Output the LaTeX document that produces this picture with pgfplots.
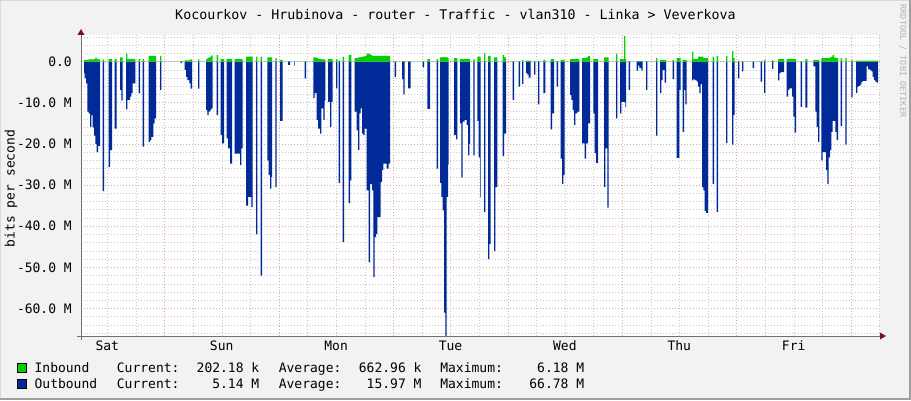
\documentclass[border=0pt]{standalone}
\usepackage{fontspec}
\setmainfont{DejaVu Sans Mono}
\setmonofont{DejaVu Sans Mono}
\usepackage{pgfplots}
\usepackage{pgfplotstable}
\pgfplotsset{compat=1.18}
\definecolor{inb}{HTML}{00CF00}
\definecolor{outb}{HTML}{002A97}
\definecolor{canvasbg}{HTML}{F2F2F2}
\definecolor{mgrid}{HTML}{EBA4A4}
\definecolor{sgrid}{HTML}{C8C8C8}
\definecolor{axcol}{HTML}{707070}
\definecolor{arrowc}{HTML}{801010}
\definecolor{wm}{HTML}{B4B4B4}
\definecolor{shadeb}{HTML}{9E9E9E}
\definecolor{shadea}{HTML}{D8D8D8}
\newcommand{\lf}{\fontsize{13}{15}\selectfont}

\pgfplotstableread{
x out in
81.0 0 0
84.0 -2.8 0.4
84.7 -4.0 0.4
86.0 -5.3 0.4
87.3 -12.2 0.4
88.7 -12.6 0.5
90.0 -15.9 0.5
91.3 -13.0 0.5
92.7 -16.0 0.5
94.0 -18.0 0.6
95.3 -20.0 1.0
96.7 -22.0 0.6
98.0 -20.5 0.5
100.0 0 0
102.7 -31.5 0.5
104.0 0 0
108.7 -25.6 0.6
110.0 -21.5 0.6
112.0 0 0
114.7 -16.3 0.6
116.7 0 0
120.0 -6.9 1.0
121.3 -9.5 1.0
122.7 0 0
126.0 -11.6 2.0
127.3 -9.3 0.6
130.0 -8.5 0.6
131.3 -7.7 0.6
132.7 -5.3 0.6
135.3 0 0
138.7 -7.7 0.6
140.0 0 0
142.7 -20.7 0.6
144.0 0 0
148.7 -19.5 1.4
150.0 -19.1 1.4
151.3 -18.3 1.4
153.3 -15.0 1.4
154.7 -13.8 1.4
156.0 0 0
160.0 -6.9 1.4
161.3 0 0
180.7 -0.4 0.1
182.0 0 0
184.7 -2.0 0.3
186.0 -3.7 0.3
187.3 -4.5 0.3
189.3 -5.3 0.4
190.7 -6.6 0.5
192.0 0 0
198.0 -6.6 0.5
199.3 0 0
206.0 -11.8 0.5
207.3 -13.0 0.8
208.7 -12.2 1.0
210.0 -11.8 1.2
211.3 -11.4 1.5
212.7 0 0
216.7 -13.0 1.6
218.0 0 0
220.7 -17.9 0.6
222.0 -19.9 0.6
224.0 0 0
226.7 -18.7 0.6
228.0 -21.1 0.6
230.0 -24.8 0.6
232.0 0 0
234.7 -22.4 0.6
240.0 -25.2 0.6
241.3 -21.1 0.6
242.7 0 0
246.0 -35.0 1.2
248.0 -32.9 1.2
251.3 -35.4 1.2
252.7 0 0
256.0 -42.0 1.2
257.3 0 0
260.7 -52.0 1.2
262.0 0 0
267.3 -24.0 1.0
268.7 -27.6 1.0
270.0 -30.9 1.0
271.3 -28.0 1.0
272.0 0 0
275.3 -30.5 0.8
276.7 0 0
280.0 -14.4 0.4
282.7 0 0
288.0 -0.8 0.05
290.0 0 0
294.0 -1.0 0.05
294.7 0 0
304.7 -4.1 0.1
306.0 0 0
313.3 -8.9 1.0
314.7 -7.7 1.0
316.7 -14.2 0.8
318.0 -16.3 0.6
320.0 -17.5 0.6
321.3 -11.4 0.5
323.3 -14.2 0.5
324.7 -9.5 0.5
325.3 0 0
328.0 -9.8 0.6
330.0 -15.9 0.6
331.3 -9.8 0.6
332.7 0 0
336.0 -6.5 0.6
337.3 0 0
338.7 -29.5 0.3
340.0 0 0
342.7 -43.9 1.2
344.0 0 0
348.7 -34.4 1.6
350.0 -28.9 1.6
351.3 0 0
354.7 -12.2 0.8
356.7 -16.7 0.8
358.0 -21.5 1.0
359.3 -12.6 1.0
360.7 -11.4 1.1
362.0 -17.5 1.2
363.3 -17.9 1.2
364.7 -16.3 1.4
366.7 -31.3 1.9
368.7 -48.8 1.9
370.0 -29.8 1.6
372.0 -31.3 1.4
373.3 -52.4 1.4
374.7 -42.7 1.4
376.0 -41.9 1.4
377.3 -37.8 1.4
380.7 -29.3 1.4
382.0 -26.4 1.4
383.3 -24.8 1.4
386.7 -26.0 1.4
388.7 -24.8 1.4
390.0 0 0
394.7 -3.7 0.05
396.0 0 0
402.0 -4.3 0.1
403.3 -8.0 0.1
404.7 0 0
408.0 -6.5 0.1
410.7 0 0
422.7 -1.4 0.05
424.0 0 0
427.3 -11.5 0.6
430.0 0 0
436.7 -26.0 0.6
438.0 0 0
440.0 -29.5 1.0
441.3 -32.9 1.0
442.7 -36.2 1.1
444.0 -61.0 1.1
445.3 -66.8 1.0
446.7 -32.9 1.0
448.0 -25.0 0.8
448.7 0 0
454.0 -17.9 0.8
456.0 -18.9 0.8
457.3 0 0
460.0 -15.0 0.6
461.3 -28.2 0.6
462.7 -14.6 0.6
464.7 -14.2 0.6
466.7 -15.4 0.6
468.0 -22.8 0.6
469.3 -20.0 0.6
470.0 0 0
473.3 -22.8 0.6
474.7 0 0
477.3 -14.4 1.2
478.7 -23.3 1.2
480.0 -33.0 1.2
480.7 0 0
484.0 -36.6 2.0
485.3 0 0
488.0 -48.0 1.4
489.3 -44.3 1.4
490.7 0 0
494.0 -46.1 1.0
495.3 -30.5 1.0
497.3 0 0
502.7 -23.0 1.6
504.0 -17.5 1.0
506.0 0 0
512.7 -9.3 0.1
514.0 0 0
518.7 -6.1 0.1
520.0 0 0
522.0 -5.4 0.4
523.3 0 0
526.0 -2.8 0.2
527.3 -3.2 0.2
528.7 -3.9 0.2
530.7 0 0
534.0 -3.2 0.1
535.3 0 0
538.0 -10.4 0.1
539.3 0 0
543.3 -7.7 0.4
545.3 0 0
550.7 -16.5 0.6
552.0 -12.6 0.6
554.0 0 0
556.7 -6.1 0.1
558.0 0 0
560.7 -23.6 0.4
562.0 -29.7 0.4
563.3 -27.6 0.4
564.7 0 0
570.0 -8.1 0.6
571.3 -9.3 0.6
572.7 -11.8 0.6
574.0 -15.4 0.6
575.3 -12.6 0.6
577.3 -12.2 0.6
579.3 0 0
582.0 -19.9 0.8
584.7 -23.6 0.8
586.0 -19.9 1.0
588.0 -15.0 1.4
590.0 0 0
593.3 -12.6 0.6
594.7 -22.2 0.6
596.0 -24.6 0.6
598.0 0 0
604.0 -30.5 1.0
605.3 -21.1 1.0
607.3 -35.5 1.0
608.7 0 0
616.0 -13.8 1.9
617.3 0 0
620.0 -12.6 0.6
621.3 -9.8 0.6
624.0 -9.8 6.18
625.3 -11.1 0.6
626.0 0 0
628.7 -6.9 0.1
630.0 0 0
636.7 -2.2 0.1
638.0 -1.0 0.1
639.3 -1.6 0.1
641.3 -2.2 0.1
642.7 0 0
646.0 -6.9 0.1
647.3 0 0
656.0 -18.0 0.9
657.3 0 0
660.0 -7.7 0.4
661.3 -4.5 0.4
662.7 -2.0 0.4
664.7 -5.1 0.4
666.0 0 0
672.7 -4.3 0.4
674.0 0 0
676.7 -23.4 0.8
679.3 -6.9 0.8
680.7 0 0
682.7 -17.1 0.4
684.0 -6.9 0.4
685.3 -10.4 0.4
686.7 0 0
692.0 -4.6 2.4
693.3 -4.3 0.6
694.7 -4.5 0.6
696.7 -4.9 0.6
698.0 -6.1 1.2
699.3 -7.7 1.2
700.7 -5.5 1.2
702.0 -30.5 1.2
703.3 -31.3 0.8
704.7 -36.3 0.8
706.0 -36.8 0.8
708.0 0 0
712.7 -29.7 1.2
714.0 0 0
716.7 -36.6 1.4
718.0 0 0
726.0 -19.8 1.4
727.3 0 0
732.0 -20.2 2.6
733.3 -13.0 0.8
734.7 0 0
738.0 -4.1 0.2
739.3 0 0
742.0 -2.4 0.05
743.3 0 0
752.7 -1.6 0.05
754.0 0 0
760.7 -4.9 0.05
762.0 0 0
764.0 -7.7 0.4
765.3 0 0
772.0 -1.8 0.4
773.3 0 0
778.0 -4.6 0.6
779.3 -2.8 0.6
780.7 -2.6 0.6
782.7 -2.6 0.6
784.0 0 0
786.7 -8.5 0.6
788.0 -6.9 0.6
789.3 -6.5 0.6
792.0 -8.5 0.6
793.3 -13.4 0.6
794.7 -17.3 0.6
796.0 0 0
800.7 -11.0 0.1
802.0 0 0
805.3 -11.2 0.6
807.3 0 0
813.3 -1.2 0.4
815.3 -12.2 0.4
816.7 -15.9 0.4
818.0 -19.5 0.4
819.3 0 0
821.3 -24.0 0.8
822.7 -22.0 0.8
826.0 -26.4 0.8
827.3 -29.7 0.8
828.7 -23.3 0.8
830.0 -21.5 1.0
831.3 -17.1 1.2
832.7 -14.4 1.6
834.0 -14.4 1.0
835.3 -17.1 0.8
836.7 -19.1 0.8
838.0 0 0
840.7 -15.7 0.8
842.0 0 0
845.3 -20.2 0.8
846.7 0 0
851.3 -8.7 0.4
852.7 0 0
856.0 -7.6 0.2
857.3 -6.1 0.2
858.7 -5.9 0.2
860.0 -5.6 0.2
861.3 -5.0 0.2
862.7 -4.7 0.2
866.7 -1.2 0.2
868.0 -1.9 0.2
870.0 -2.0 0.2
871.3 -2.4 0.2
872.7 -3.7 0.2
874.0 -4.5 0.2
875.3 -4.9 0.2
876.7 -5.1 0.2
878.0 0 0
880.0 0 0
}\traffic

\begin{document}
\begin{tikzpicture}
\fill[canvasbg] (0pt,0pt) rectangle (911pt,400pt);
\useasboundingbox (0pt,0pt) rectangle (911pt,400pt);
\fill[shadea] (0pt,0pt) rectangle (1pt,400pt);
\fill[shadea] (0pt,399pt) rectangle (911pt,400pt);
\fill[shadeb] (909pt,0pt) rectangle (911pt,400pt);
\fill[shadeb] (0pt,0pt) rectangle (911pt,2pt);
\fill[white] (81pt,64pt) rectangle (880pt,364.8pt);

\begin{axis}[
  at={(81pt,64pt)}, anchor=south west,
  scale only axis, width=799pt, height=300.8pt,
  xmin=81, xmax=880, ymin=-66.7, ymax=6.4,
  axis line style={draw=none},
  tick style={draw=none},
  major tick length=0pt, minor tick length=0pt,
  xtick={107.3,221.7,336.1,450.5,564.9,679.3,793.7},
  xticklabels={Sat,Sun,Mon,Tue,Wed,Thu,Fri},
  xticklabel style={font=\lf, anchor=base, yshift=-14pt},
  minor xtick={107.3,135.9,193.1,221.7,250.3,307.5,336.1,364.7,421.9,450.5,479.1,536.3,564.9,593.5,650.7,679.3,707.9,765.1,793.7,822.3,879.5},
  xminorgrids=true,
  extra x ticks={164.5,278.9,393.3,507.7,622.1,736.5,850.9},
  extra x tick labels={},
  extra x tick style={grid=major, major grid style={mgrid, dash pattern=on 1pt off 2pt}},
  ytick={-60,-50,-40,-30,-20,-10,0},
  yticklabels={-60.0 M,-50.0 M,-40.0 M,-30.0 M,-20.0 M,-10.0 M,0.0},
  yticklabel style={font=\lf, anchor=east, inner sep=0pt, xshift=-9pt},
  minor ytick={-66,-64,...,6},
  ymajorgrids=true, yminorgrids=true,
  major grid style={mgrid, dash pattern=on 1pt off 2pt},
  minor grid style={sgrid, dash pattern=on 1pt off 2pt},
]
\addplot[const plot, fill=outb, draw=none] table[x=x, y=out]{\traffic} \closedcycle;
\addplot[const plot, fill=inb, draw=none] table[x=x, y=in]{\traffic} \closedcycle;
\end{axis}

% axes and arrows
\draw[axcol, line width=1pt] (81pt,60pt) -- (81pt,366pt);
\draw[axcol, line width=1pt] (77pt,64pt) -- (881pt,64pt);
\fill[arrowc] (77.5pt,365pt) -- (84.5pt,365pt) -- (81pt,371pt) -- cycle;
\fill[arrowc] (880pt,60.5pt) -- (880pt,67.5pt) -- (886pt,64pt) -- cycle;

% title, label, watermark
\node[font=\fontsize{13.3}{15}\selectfont, anchor=base, inner sep=0pt] at (455.5pt,380.5pt) {Kocourkov - Hrubinova - router - Traffic - vlan310 - Linka > Veverkova};
\node[font=\lf, rotate=90, inner sep=0pt] at (11pt,211.5pt) {bits per second};
\node[font=\fontsize{8.5}{10}\selectfont, text=wm, rotate=-90, inner sep=0pt] at (903pt,339pt) {RRDTOOL / TOBI OETIKER};

% legend
\filldraw[fill=inb, draw=black, line width=0.6pt] (17pt,27.5pt) rectangle (26.5pt,37pt);
\filldraw[fill=outb, draw=black, line width=0.6pt] (17pt,11.5pt) rectangle (26.5pt,21pt);
\begin{scope}[every node/.style={font=\lf, inner sep=0pt}]
\node[anchor=base west] at (34.4pt,27.5pt) {Inbound};
\node[anchor=base west] at (116.7pt,27.5pt) {Current:};
\node[anchor=base east] at (259.5pt,27.5pt) {202.18 k};
\node[anchor=base west] at (278.6pt,27.5pt) {Average:};
\node[anchor=base east] at (421.7pt,27.5pt) {662.96 k};
\node[anchor=base west] at (440.1pt,27.5pt) {Maximum:};
\node[anchor=base east] at (584.4pt,27.5pt) {6.18 M};
\node[anchor=base west] at (34.4pt,11.5pt) {Outbound};
\node[anchor=base west] at (116.7pt,11.5pt) {Current:};
\node[anchor=base east] at (259.5pt,11.5pt) {5.14 M};
\node[anchor=base west] at (278.6pt,11.5pt) {Average:};
\node[anchor=base east] at (421.7pt,11.5pt) {15.97 M};
\node[anchor=base west] at (440.1pt,11.5pt) {Maximum:};
\node[anchor=base east] at (584.4pt,11.5pt) {66.78 M};
\end{scope}
\end{tikzpicture}
\end{document}
